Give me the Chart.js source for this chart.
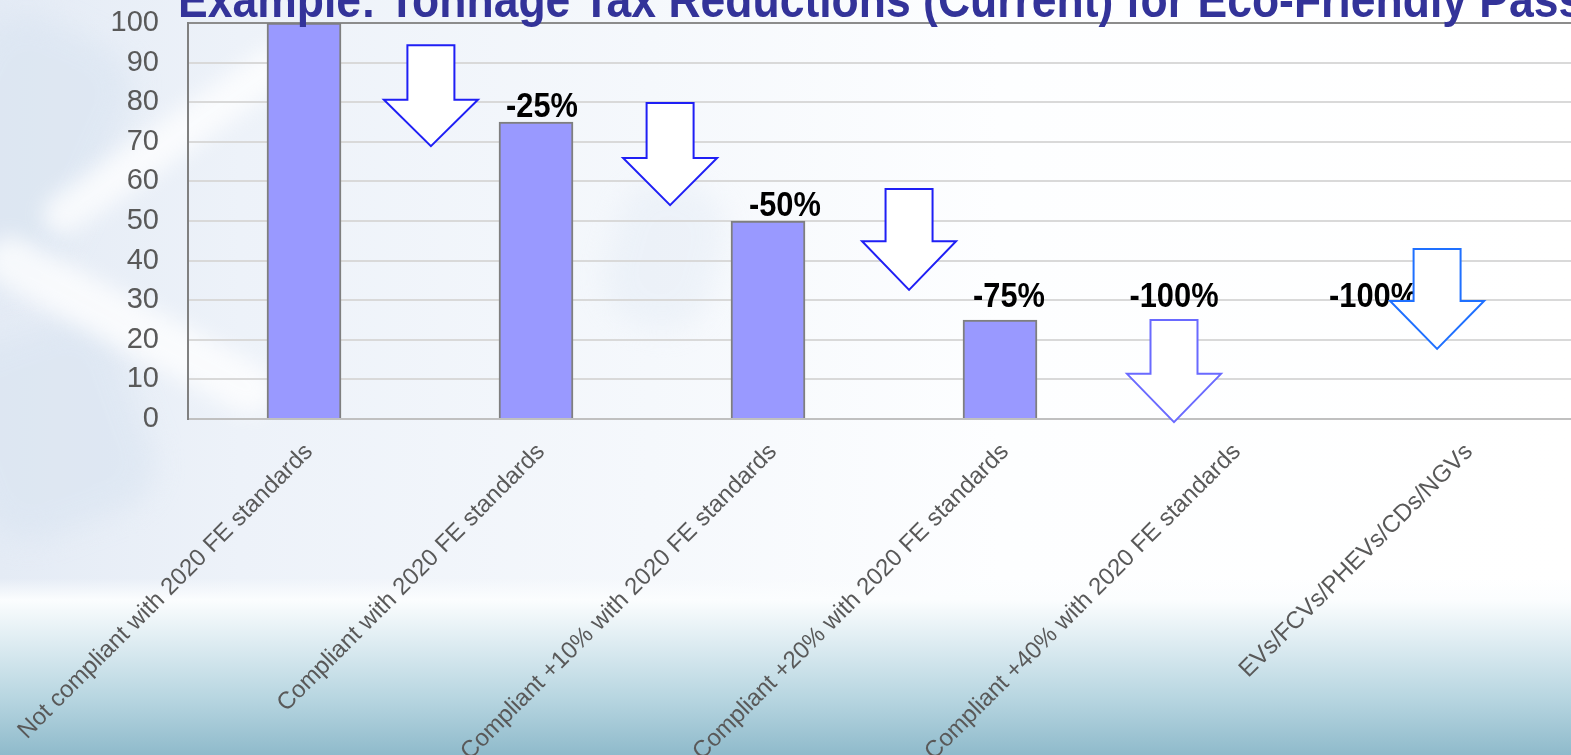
<!DOCTYPE html>
<html lang="en">
<head>
<meta charset="UTF-8">
<title>Tonnage Tax Reductions</title>
<style>
  html, body {
    margin: 0;
    padding: 0;
    overflow: hidden;
  }
  body {
    width: 1571px;
    height: 755px;
    position: relative;
    font-family: Arial, "Liberation Sans", sans-serif;
    background:
      linear-gradient(to bottom, rgba(255,255,255,0) 0px, rgba(255,255,255,0) 578px, #fbfdfe 600px, #dcebf1 645px, #b6d5e0 700px, #8fbacb 755px),
      linear-gradient(to right, #e4ebf5 0px, #edf2f9 240px, #f5f8fc 650px, #fdfeff 1000px, #ffffff 1571px);
  }
  .swoosh {
    position: absolute;
    background: #ffffff;
    filter: blur(10px);
    opacity: 0.75;
    border-radius: 40px;
  }
  .shade {
    position: absolute;
    background: #d9e4f1;
    filter: blur(14px);
    opacity: 0.6;
    border-radius: 50px;
  }
  #chart {
    position: absolute;
    left: 0;
    top: 0;
  }
</style>
</head>
<body>
  <div class="shade" style="left:-60px; top:20px; width:160px; height:260px; transform:rotate(25deg);"></div>
  <div class="shade" style="left:-40px; top:330px; width:180px; height:200px; transform:rotate(-20deg);"></div>
  <div class="shade" style="left:610px; top:180px; width:110px; height:150px; transform:rotate(15deg); opacity:0.3;"></div>
  <div class="swoosh" style="left:20px; top:120px; width:300px; height:40px; transform:rotate(-35deg);"></div>
  <div class="swoosh" style="left:-30px; top:300px; width:320px; height:50px; transform:rotate(28deg);"></div>
  <canvas id="chart" width="1580" height="755"></canvas>

  <script src="https://cdn.jsdelivr.net/npm/chart.js"></script>
  <script>
    const chartTitle = 'Example: Tonnage Tax Reductions (Current) for Eco-Friendly Passenger Vehicles';

    const categories = [
      'Not compliant with 2020 FE standards',
      'Compliant with 2020 FE standards',
      'Compliant +10% with 2020 FE standards',
      'Compliant +20% with 2020 FE standards',
      'Compliant +40% with 2020 FE standards',
      'EVs/FCVs/PHEVs/CDs/NGVs'
    ];

    // tonnage tax as a share of the full rate
    const taxLevels = [100, 75, 50, 25, 0, 0];

    const yMin = 0;
    const yMax = 100;
    const yStep = 10;

    // where each reduction label sits: shift along the category axis and baseline value
    const labelShift = [null, 0.026, 0.073, 0.039, -0.25, -0.39];
    const labelBase = [null, 76.3, 51.2, 28.2, 28.2, 28.2];

    // down arrows between the steps: centre (category units), top, shoulder and tip (values)
    const arrowCentre = [0.547, 1.578, 2.608, 3.750, 4.884];
    const arrowTop = [94.4, 79.8, 58.1, 25.0, 42.9];
    const arrowShoulder = [80.6, 65.9, 44.9, 11.4, 29.8];
    const arrowTip = [68.9, 54.0, 32.6, -0.8, 17.7];
    const arrowColours = ['#1f1ff5', '#1f1ff5', '#1f1ff5', '#6a6aff', '#1f70ff'];

    const titlePlugin = {
      id: 'slideTitle',
      afterDraw(chart) {
        const ctx = chart.ctx;
        ctx.save();
        ctx.font = 'bold 50px Arial, "Liberation Sans", sans-serif';
        ctx.fillStyle = '#333399';
        ctx.textAlign = 'left';
        ctx.textBaseline = 'alphabetic';
        ctx.translate(178, 17);
        ctx.scale(0.89, 1);
        ctx.fillText(chartTitle, 0, 0);
        ctx.restore();
      }
    };

    const reductionLabels = {
      id: 'reductionLabels',
      afterDatasetsDraw(chart) {
        const ctx = chart.ctx;
        const x = chart.scales.x;
        const y = chart.scales.y;
        ctx.save();
        ctx.font = 'bold 35px Arial, "Liberation Sans", sans-serif';
        ctx.fillStyle = '#000000';
        ctx.textAlign = 'center';
        ctx.textBaseline = 'alphabetic';
        taxLevels.forEach((v, i) => {
          if (labelShift[i] === null) return;
          const text = (v - 100) + '%';
          ctx.save();
          ctx.translate(x.getPixelForValue(i + labelShift[i]), y.getPixelForValue(labelBase[i]));
          ctx.scale(0.88, 1);
          ctx.fillText(text, 0, 0);
          ctx.restore();
        });

        // arrows are drawn last so the white fill covers whatever is underneath
        const shaftHalf = 23.5;
        const headHalf = 47;
        arrowCentre.forEach((c, i) => {
          const cx = x.getPixelForValue(c);
          const top = y.getPixelForValue(arrowTop[i]);
          const sh = y.getPixelForValue(arrowShoulder[i]);
          const tip = y.getPixelForValue(arrowTip[i]);
          ctx.beginPath();
          ctx.moveTo(cx - shaftHalf, top);
          ctx.lineTo(cx + shaftHalf, top);
          ctx.lineTo(cx + shaftHalf, sh);
          ctx.lineTo(cx + headHalf, sh);
          ctx.lineTo(cx, tip);
          ctx.lineTo(cx - headHalf, sh);
          ctx.lineTo(cx - shaftHalf, sh);
          ctx.closePath();
          ctx.fillStyle = '#ffffff';
          ctx.fill();
          ctx.lineWidth = 2;
          ctx.lineJoin = 'miter';
          ctx.strokeStyle = arrowColours[i];
          ctx.stroke();
        });
        ctx.restore();
      }
    };

    new Chart(document.getElementById('chart'), {
      type: 'bar',
      data: {
        labels: categories,
        datasets: [{
          data: taxLevels,
          backgroundColor: '#9999ff',
          borderColor: '#7f7f7f',
          borderWidth: 2,
          barThickness: 74
        }]
      },
      options: {
        responsive: false,
        animation: false,
        events: [],
        layout: { padding: { top: 23, right: 0, bottom: 0, left: 0 } },
        plugins: {
          legend: { display: false },
          tooltip: { enabled: false },
          title: { display: false }
        },
        scales: {
          x: {
            offset: true,
            grid: { display: false },
            border: { color: '#c0c0c0', width: 2 },
            ticks: {
              autoSkip: false,
              minRotation: 45,
              maxRotation: 45,
              padding: 11,
              labelOffset: 5,
              color: '#595959',
              font: { family: 'Arial, "Liberation Sans", sans-serif', size: 24 }
            },
            afterFit(scale) {
              scale.height = 336;
              scale.paddingLeft = 0;
              scale.paddingRight = 0;
            }
          },
          y: {
            min: yMin,
            max: yMax,
            grid: {
              drawTicks: false,
              lineWidth: 2,
              color: ctx => ctx.tick.value === yMax ? '#8c8c8c' : '#d9d9d9'
            },
            border: { color: '#808080', width: 2 },
            ticks: {
              stepSize: yStep,
              padding: 29,
              color: '#595959',
              font: { family: 'Arial, "Liberation Sans", sans-serif', size: 29 }
            },
            afterFit(scale) {
              scale.width = 188;
              scale.paddingTop = 0;
              scale.paddingBottom = 0;
            }
          }
        }
      },
      plugins: [titlePlugin, reductionLabels]
    });
  </script>
</body>
</html>
